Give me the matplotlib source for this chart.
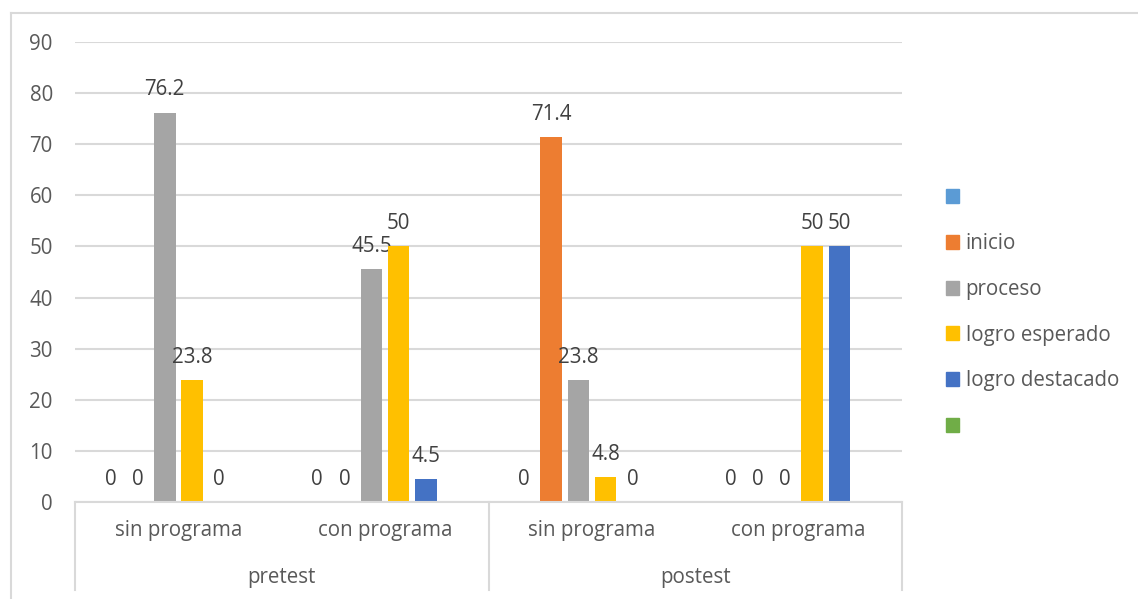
import numpy as np
import matplotlib
matplotlib.use("Agg")
import matplotlib.pyplot as plt
from matplotlib.patches import Rectangle
from matplotlib.lines import Line2D

plt.rcParams["font.family"] = ["Open Sans", "DejaVu Sans"]

# --- data -------------------------------------------------------------
subgroups = ["sin programa", "con programa", "sin programa", "con programa"]
groups = ["pretest", "postest"]
series_names = ["", "inicio", "proceso", "logro esperado", "logro destacado", ""]
serie_vacia = [0, 0, 0, 0]
inicio = [0, 0, 71.4, 0]
proceso = [76.2, 45.5, 23.8, 0]
logro_esperado = [23.8, 50, 4.8, 50]
logro_destacado = [0, 4.5, 0, 50]
serie_sin_datos = [np.nan, np.nan, np.nan, np.nan]
y_ticks = [0, 10, 20, 30, 40, 50, 60, 70, 80, 90]

series = [serie_vacia, inicio, proceso, logro_esperado, logro_destacado, serie_sin_datos]
colors = ["#5B9BD5", "#ED7D31", "#A5A5A5", "#FFC000", "#4472C4", "#70AD47"]

TXT = "#595959"
LBL = "#404040"
GRID = "#D9D9D9"
FS = 14.8

W, H = 1138, 599
fig = plt.figure(figsize=(W / 100, H / 100), dpi=100)

# chart-area border (top and left edges visible)
fig.add_artist(Line2D([11 / W, 1.0], [1 - 13 / H, 1 - 13 / H], color=GRID, lw=1.5))
fig.add_artist(Line2D([11 / W, 11 / W], [0, 1 - 13 / H], color=GRID, lw=1.5))

left, right, top, bottom = 75, 902, 42, 502
ax = fig.add_axes([left / W, 1 - bottom / H, (right - left) / W, (bottom - top) / H])

x = np.arange(len(subgroups))
step = 0.1316
bw = 0.104
n = len(series)
for i, (vals, c, name) in enumerate(zip(series, colors, series_names)):
    pos = x + (i - (n - 1) / 2) * step
    ax.bar(pos, vals, width=bw, color=c, zorder=3)
    for xp, v in zip(pos, vals):
        if np.isnan(v):
            continue
        ax.annotate(f"{v:g}", (xp, v), xytext=(0, 12.5), textcoords="offset points",
                    ha="center", va="baseline", fontsize=FS, color=LBL)

ax.set_xlim(-0.5, len(subgroups) - 0.5)
ax.set_ylim(0, 90)
ax.set_yticks(y_ticks)
ax.tick_params(axis="y", length=0, pad=16, labelsize=FS, labelcolor=TXT)
ax.set_xticks([])
ax.grid(axis="y", color=GRID, lw=1.5, zorder=0)
for s in ["top", "right", "left"]:
    ax.spines[s].set_visible(False)
ax.spines["bottom"].set_color(GRID)
ax.spines["bottom"].set_linewidth(1.5)
ax.spines["bottom"].set_zorder(4)

# two-level category axis
trans = ax.get_xaxis_transform()
for xi, lab in zip(x, subgroups):
    ax.text(xi, -0.063, lab, transform=trans, ha="center", va="center",
            fontsize=FS, color=TXT)
for gi, g in enumerate(groups):
    ax.text(2 * gi + 0.5, -0.165, g, transform=trans, ha="center", va="center",
            fontsize=FS, color=TXT)
for xb in [-0.5, 1.5, 3.5]:
    ax.add_line(Line2D([xb, xb], [0, -0.191], transform=trans, color=GRID,
                       lw=1.5, clip_on=False))

# legend
handles = [Rectangle((0, 0), 1, 1, color=c) for c in colors]
fig.legend(handles, series_names, loc="upper left",
           bbox_to_anchor=(927 / W, 1 - 169 / H), frameon=False,
           fontsize=FS, handlelength=0.68, handleheight=0.68,
           handletextpad=0.3, labelspacing=1.2, labelcolor=TXT)

fig.savefig("out.png", dpi=100)
